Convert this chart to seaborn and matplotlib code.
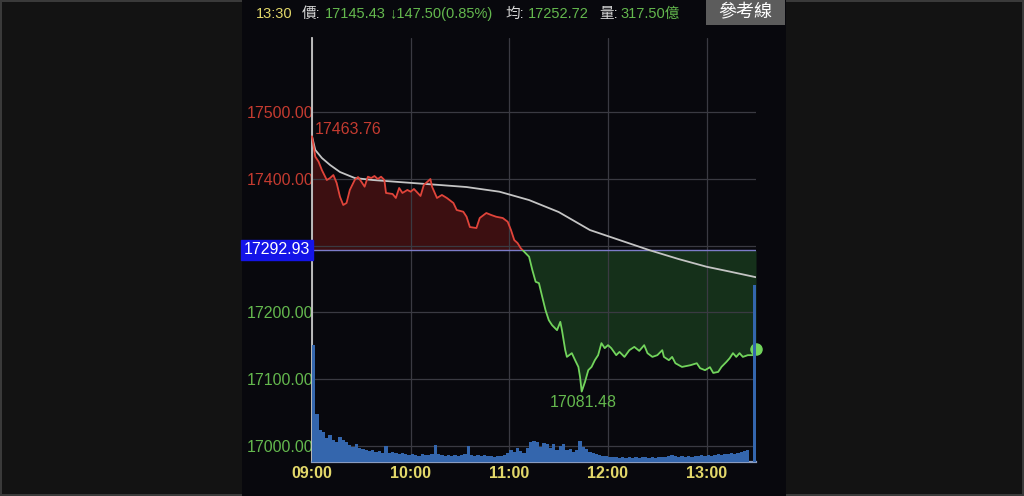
import numpy as np
import matplotlib
matplotlib.use("Agg")
import matplotlib.pyplot as plt
from matplotlib.patches import Rectangle
import seaborn as sns

# ---------------- data ----------------
ref_price = 17292.93
last_price = 17145.43
change = 147.50
change_pct = 0.85
avg_price = 17252.72
turnover = 317.50
high_price = 17463.76
low_price = 17081.48
clock = "13:30"

# minutes after 09:00
price_time = [0, 2, 4, 6, 9, 11, 13, 15, 17, 19,
              21, 23, 26, 28, 30, 32, 34, 36, 38, 40,
              42, 44, 45, 49, 51, 53, 55, 58, 60, 62,
              66, 68, 72, 73, 76, 79, 82, 86, 88, 92,
              94, 96, 100, 102, 106, 109, 112, 116, 119, 121,
              123, 125, 127, 129, 132, 134, 136, 138, 140, 142,
              144, 146, 149, 151, 152, 154, 155, 158, 160, 162,
              163, 164, 166, 168, 170, 172, 174, 176, 178, 180,
              182, 185, 187, 190, 193, 196, 199, 202, 204, 207,
              210, 213, 214, 217, 219, 221, 225, 230, 234, 236,
              239, 242, 244, 247, 249, 252, 254, 256, 258, 260,
              262, 265, 268, 270]
price_val = [17463.76, 17433.3, 17425.8, 17413.3, 17398.3, 17401.3, 17405.8, 17393.8, 17373.3, 17360.9,
             17363.9, 17383.4, 17398.4, 17402.8, 17395.8, 17388.3, 17403.3, 17401.3, 17404.3, 17399.8,
             17403.3, 17398.4, 17378.9, 17377.4, 17371.4, 17386.4, 17378.9, 17383.4, 17380.8, 17384.9,
             17374.4, 17390.9, 17399.8, 17388.3, 17371.4, 17375.9, 17371.4, 17363.9, 17353.4, 17350.8,
             17343.3, 17327.9, 17326.4, 17341.4, 17348.9, 17345.9, 17343.3, 17341.4, 17335.8, 17323.4,
             17308.4, 17303.9, 17296.0, 17291.0, 17283.4, 17263.4, 17245.9, 17243.9, 17223.4, 17203.4,
             17188.4, 17180.9, 17173.4, 17185.9, 17173.4, 17143.5, 17133.4, 17139.0, 17128.5, 17118.4,
             17103.4, 17081.48, 17095.9, 17113.5, 17118.4, 17128.5, 17136.0, 17154.0, 17146.5, 17151.0,
             17146.5, 17136.0, 17140.9, 17133.4, 17143.5, 17148.4, 17142.4, 17151.0, 17139.0, 17133.4,
             17136.0, 17143.5, 17133.4, 17128.5, 17133.4, 17123.9, 17118.4, 17120.9, 17123.9, 17116.5,
             17113.5, 17118.0, 17109.4, 17110.9, 17118.4, 17125.9, 17131.5, 17139.0, 17133.4, 17139.0,
             17133.4, 17136.0, 17136.0, 17145.43]

avg_time = [0, 2, 6, 11, 17, 26, 37, 53, 78, 94, 114, 132, 150, 169, 187, 205, 223, 240, 254, 270]
avg_val = [17463.76, 17443.3, 17431.3, 17420.8, 17410.3, 17401.3, 17398.3, 17395.3, 17390.8, 17387.8,
           17380.8, 17368.3, 17350.4, 17323.4, 17308.4, 17293.4, 17279.9, 17268.4, 17261.2, 17252.72]

# volume per 2-minute bucket (億), last bucket = closing auction
vol_time = list(range(0, 266, 2)) + [268]
vol_val = [11.7, 4.8, 3.2, 3.0, 2.4, 2.7, 2.2, 2.0, 2.5, 2.2, 2.0,
           1.7, 1.5, 1.8, 1.4, 1.3, 1.2, 1.1, 1.2, 1.0, 1.1, 0.9,
           1.6, 0.9, 1.0, 0.9, 0.8, 0.9, 0.8, 0.7, 0.8, 0.7, 0.6,
           0.8, 0.7, 0.7, 0.8, 1.7, 0.8, 0.7, 0.6, 0.7, 0.6, 0.7,
           0.6, 0.7, 0.8, 1.6, 0.7, 0.6, 0.7, 0.6, 0.7, 0.6, 0.6,
           0.5, 0.6, 0.6, 0.7, 0.9, 1.2, 1.0, 1.4, 1.1, 0.9, 1.4,
           2.0, 2.1, 2.0, 1.5, 1.9, 1.8, 1.4, 1.8, 1.2, 1.6, 1.8,
           1.2, 1.3, 1.0, 1.2, 2.1, 1.5, 1.3, 1.0, 0.9, 0.8, 0.7,
           0.6, 0.6, 0.5, 0.5, 0.5, 0.4, 0.5, 0.4, 0.5, 0.4, 0.5,
           0.4, 0.5, 0.5, 0.4, 0.5, 0.4, 0.5, 0.5, 0.5, 0.6, 0.7,
           0.6, 0.5, 0.6, 0.5, 0.6, 0.5, 0.6, 0.6, 0.7, 0.6, 0.7,
           0.6, 0.7, 0.8, 0.7, 0.8, 0.8, 0.9, 0.8, 0.9, 1.0, 1.1,
           1.2, 17.7]

y_ticks = [17000, 17100, 17200, 17300, 17400, 17500]
x_ticks = [0, 60, 120, 180, 240]
x_labels = ["09:00", "10:00", "11:00", "12:00", "13:00"]

assert len(price_time) == len(price_val)
assert len(avg_time) == len(avg_val)
assert len(vol_time) == len(vol_val)

# ---------------- style ----------------
sns.set_theme(style="dark")
plt.rcParams["font.family"] = ["Liberation Sans", "Noto Sans CJK TC", "DejaVu Sans"]

BG_OUT = "#131313"
BG_IN = "#08080d"
RED = "#e0443a"
RED_TXT = "#c43b30"
GREEN = "#72d45c"
GREEN_TXT = "#64b84e"
YELLOW = "#e3d86a"
GRID = "#3a3a42"

fig = plt.figure(figsize=(10.24, 4.96), dpi=100, facecolor=BG_OUT)
fig.patch.set_edgecolor("#3a3a3a")
fig.patch.set_linewidth(1.5)
fig.add_artist(Rectangle((242 / 1024, 0), (786 - 242) / 1024, 1, transform=fig.transFigure,
                         facecolor=BG_IN, edgecolor="none", zorder=0))

ax = fig.add_axes([312 / 1024, 1 - 462 / 496, (756 - 312) / 1024, (462 - 38) / 496])
ax.set_facecolor(BG_IN)
ax.set_xlim(0, 270)
ax.set_ylim(16976, 17611)

px = np.array(price_time, dtype=float)
pv = np.array(price_val, dtype=float)

# fills
ax.fill_between(px, pv, ref_price, where=pv >= ref_price, interpolate=True,
                color="#3c0f11", lw=0, zorder=1)
ax.fill_between(px, pv, ref_price, where=pv <= ref_price, interpolate=True,
                color="#15301a", lw=0, zorder=1)

# grid
for yv in y_ticks:
    ax.axhline(yv, color=GRID, lw=0.9, zorder=1.5)
for xv in x_ticks:
    ax.axvline(xv, color=GRID, lw=0.9, zorder=1.5)
ax.grid(False)

# reference line
ax.axhline(ref_price, color="#7c7cc8", lw=1.0, zorder=2)

# average line
sns.lineplot(x=avg_time, y=avg_val, ax=ax, color="#c4c4c4", lw=1.3, zorder=3)

# price line split by colour via clipping
sns.lineplot(x=price_time, y=price_val, ax=ax, color=RED, lw=1.3, zorder=4)
red_line = ax.lines[-1]
red_line.set_clip_path(Rectangle((-10, ref_price), 300, 2000, transform=ax.transData))
sns.lineplot(x=price_time, y=price_val, ax=ax, color=GREEN, lw=1.3, zorder=4)
green_line = ax.lines[-1]
green_line.set_clip_path(Rectangle((-10, ref_price - 2000), 300, 2000, transform=ax.transData))

# last point marker
ax.plot([price_time[-1]], [price_val[-1]], "o", color=GREEN, ms=8, zorder=6, clip_on=False)

# high / low labels
ax.annotate(f"{high_price:.2f}", xy=(price_time[0], high_price), xytext=(2, 5),
            textcoords="offset points", ha="left", va="center", color=RED_TXT, fontsize=11.5)
i_low = int(np.argmin(pv))
ax.annotate(f"{low_price:.2f}", xy=(price_time[i_low], low_price), xytext=(1, -8),
            textcoords="offset points", ha="center", va="center", color=GREEN_TXT, fontsize=11.5)

# axes / spines
for s in ["top", "right"]:
    ax.spines[s].set_visible(False)
ax.spines["left"].set_color("#c8c8c8")
ax.spines["left"].set_linewidth(1.3)
ax.spines["bottom"].set_color("#8a9cc0")
ax.spines["bottom"].set_linewidth(1.6)
ax.set_yticks(y_ticks)
ax.set_yticklabels([f"{v:.2f}" for v in y_ticks], fontsize=11.5)
for lab, v in zip(ax.get_yticklabels(), y_ticks):
    lab.set_color(RED_TXT if v > ref_price else GREEN_TXT)
ax.set_xticks(x_ticks)
ax.set_xticklabels(x_labels, fontsize=11.5, color=YELLOW, fontweight="bold")
ax.tick_params(axis="y", length=0, pad=-1)
ax.tick_params(axis="x", length=0, pad=3)
ax.set_xlabel("")
ax.set_ylabel("")

# volume on twin axis
ax2 = ax.twinx()
ax2.set_ylim(0, 42.4)
ax2.bar(vol_time, vol_val, width=2, align="edge", color="#3466ad", lw=0, zorder=2)
ax2.set_xlim(0, 270)
ax2.set_yticks([])
for s in ax2.spines.values():
    s.set_visible(False)
ax2.grid(False)

# reference price tag on the y axis
fig.text(277 / 1024, 1 - 250 / 496, f"{ref_price:.2f}", ha="center", va="center",
         color="white", fontsize=11.5, zorder=10,
         bbox=dict(boxstyle="square,pad=0.18", facecolor="#1414e8", edgecolor="#1414e8"))

# header
hy = 1 - 14 / 496
hfs = 10.5
fig.text(256 / 1024, hy, clock, color=YELLOW, fontsize=hfs, va="center", ha="left")
fig.text(302 / 1024, hy, "價:", color="#d8d8d8", fontsize=hfs, va="center", ha="left")
fig.text(325 / 1024, hy, f"{last_price:.2f}", color=GREEN_TXT, fontsize=hfs, va="center", ha="left")
fig.text(389 / 1024, hy, f"↓{change:.2f}({change_pct:.2f}%)", color=GREEN_TXT, fontsize=hfs,
         va="center", ha="left")
fig.text(506 / 1024, hy, "均:", color="#d8d8d8", fontsize=hfs, va="center", ha="left")
fig.text(528 / 1024, hy, f"{avg_price:.2f}", color=GREEN_TXT, fontsize=hfs, va="center", ha="left")
fig.text(599 / 1024, hy, "量:", color="#d8d8d8", fontsize=hfs, va="center", ha="left")
fig.text(620 / 1024, hy, f"{turnover:.2f}億", color=GREEN_TXT, fontsize=hfs, va="center", ha="left")

# 參考線 button
fig.add_artist(Rectangle((706 / 1024, 1 - 25 / 496), 79 / 1024, 25 / 496, transform=fig.transFigure,
                         facecolor="#5c5c5c", edgecolor="none", zorder=5))
fig.text(745 / 1024, 1 - 12.5 / 496, "參考線", color="white", fontsize=13, ha="center", va="center",
         zorder=6)

fig.savefig("out.png", dpi=100, facecolor=fig.get_facecolor(), edgecolor=fig.patch.get_edgecolor())
